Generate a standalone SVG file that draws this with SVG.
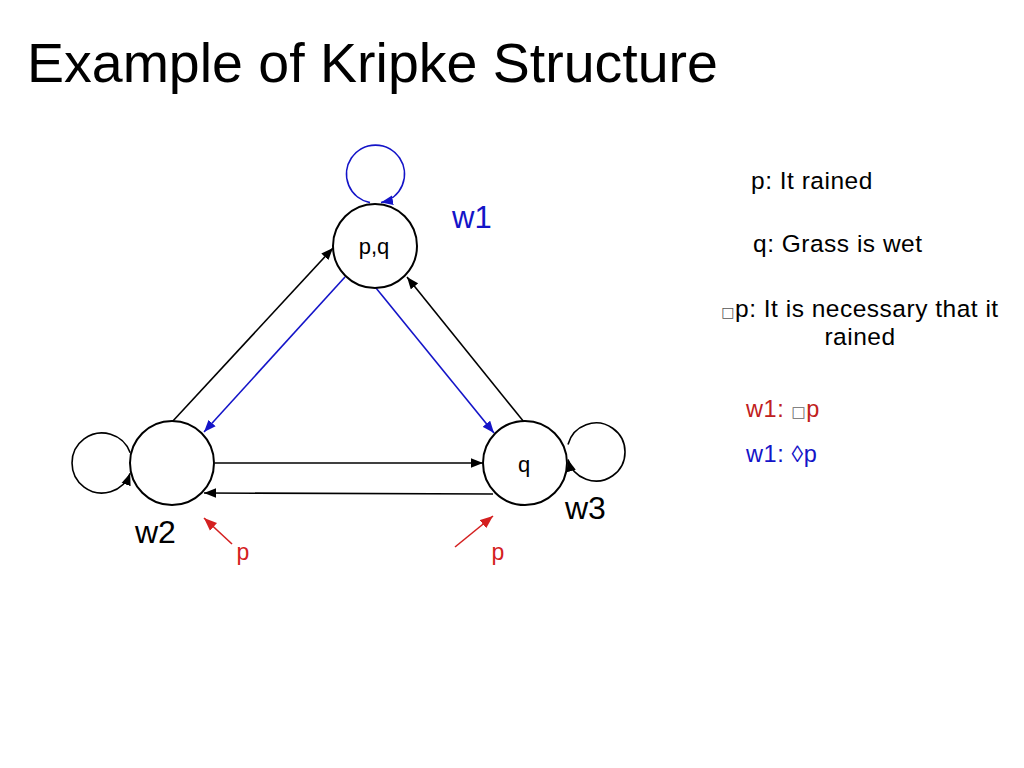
<svg xmlns="http://www.w3.org/2000/svg" width="1024" height="768" viewBox="0 0 1024 768">
<defs>
<style>
text{font-family:"Liberation Sans",Arial,sans-serif;}
.node{fill:#fff;stroke:#000;stroke-width:2;}
.edge{fill:none;stroke:#000;stroke-width:1.6;}
.blue{stroke:#1414c8;}
.red{stroke:#d42020;}
.lbl{font-size:22px;fill:#000;text-anchor:middle;}
.wl{font-size:32px;fill:#000;}
.rt{font-size:24.5px;fill:#000;letter-spacing:0.5px;}
.sq{font-family:"DejaVu Sans",sans-serif;font-size:14px;fill:#555;}
</style>
<marker id="ak" viewBox="0 0 10 8" refX="10" refY="4" markerWidth="12" markerHeight="10" markerUnits="userSpaceOnUse" orient="auto"><path d="M0,0 L10,4 L0,8 z" fill="#000"/></marker>
<marker id="ab" viewBox="0 0 10 8" refX="10" refY="4" markerWidth="12" markerHeight="10" markerUnits="userSpaceOnUse" orient="auto"><path d="M0,0 L10,4 L0,8 z" fill="#1414c8"/></marker>
<marker id="ar" viewBox="0 0 10 8" refX="10" refY="4" markerWidth="13" markerHeight="11" markerUnits="userSpaceOnUse" orient="auto"><path d="M0,0 L10,4 L0,8 z" fill="#d42020"/></marker>
</defs>
<rect width="1024" height="768" fill="#fff"/>
<text x="27" y="82" style="font-size:55.5px;fill:#000">Example of Kripke Structure</text>

<g id="connectors">
<path class="edge blue" d="M370,202.6 A29,29 0 1 1 381,202.6" marker-end="url(#ab)"/>
<path class="edge" d="M130.2,452.7 A30,30 0 1 0 130.2,473.3" marker-end="url(#ak)"/>
<path class="edge" d="M568,444.5 A29,29 0 1 1 568,459.5" marker-end="url(#ak)"/>
<line class="edge" x1="172" y1="422" x2="333" y2="248" marker-end="url(#ak)"/>
<line class="edge blue" x1="345" y1="277" x2="204" y2="432" marker-end="url(#ab)"/>
<line class="edge blue" x1="376" y1="288" x2="494" y2="433" marker-end="url(#ab)"/>
<line class="edge" x1="524" y1="422" x2="407" y2="277" marker-end="url(#ak)"/>
<line class="edge" x1="215" y1="463" x2="483" y2="463" marker-end="url(#ak)"/>
<line class="edge" x1="493" y1="494" x2="204" y2="493" marker-end="url(#ak)"/>
<line class="edge red" x1="232" y1="544" x2="204" y2="518" marker-end="url(#ar)"/>
<line class="edge red" x1="455" y1="547" x2="493" y2="516" marker-end="url(#ar)"/>
</g>

<g id="w1">
<circle class="node" cx="375" cy="246" r="42"/>
<text class="lbl" x="374" y="254">p,q</text>
<text x="452" y="228" style="font-size:31px;fill:#1414c8">w1</text>
</g>
<g id="w2">
<circle class="node" cx="172" cy="463" r="42"/>
<text class="wl" x="135" y="543">w2</text>
<text x="243" y="560" style="font-size:23px;fill:#d42020;text-anchor:middle">p</text>
</g>
<g id="w3">
<circle class="node" cx="525" cy="463" r="42"/>
<text class="lbl" x="524" y="472">q</text>
<text class="wl" x="565" y="519">w3</text>
<text x="498" y="560" style="font-size:23px;fill:#d42020;text-anchor:middle">p</text>
</g>

<g id="legend">
<text class="rt" x="751" y="189">p: It rained</text>
<text class="rt" x="753" y="252">q: Grass is wet</text>
<text class="rt" x="860" y="317" text-anchor="middle"><tspan class="sq">□</tspan>p: It is necessary that it</text>
<text class="rt" x="860" y="345" text-anchor="middle">rained</text>
<text x="746" y="417" style="font-size:23.5px;fill:#c02020;letter-spacing:0.6px">w1: <tspan class="sq" style="fill:#666;font-size:15px">□</tspan>p</text>
<text x="746" y="462" style="font-size:23.5px;fill:#1414c8;letter-spacing:0.6px">w1: ◊p</text>
</g>
</svg>
